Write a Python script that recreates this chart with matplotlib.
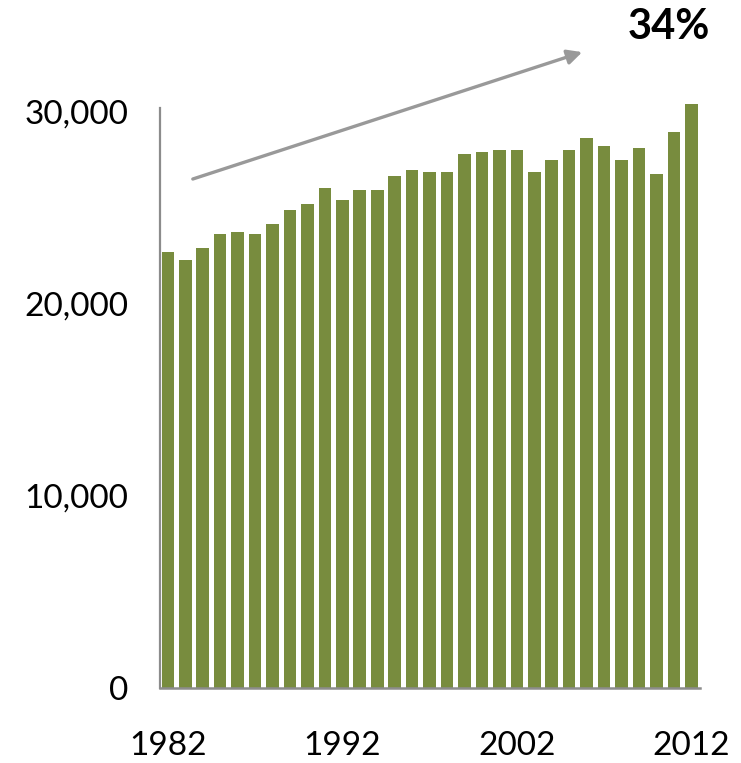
import matplotlib
matplotlib.use("Agg")
import matplotlib.pyplot as plt

years = list(range(1982, 2013))
values = [22700, 22260, 22880, 23610, 23710, 23610, 24130, 24860, 25170, 26000,
          25380, 25900, 25900, 26630, 26940, 26830, 26830, 27770, 27870, 27980,
          27980, 26830, 27460, 27980, 28600, 28190, 27460, 28080, 26730, 28910,
          30370]
tick_years = [1982, 1992, 2002, 2012]
ytick_vals = [0, 10000, 20000, 30000]
growth_label = "34%"

plt.rcParams['font.family'] = ['Lato', 'DejaVu Sans']

W, H = 741, 763
fig = plt.figure(figsize=(W / 100, H / 100), dpi=100)
ax = fig.add_axes([160 / W, 75 / H, (700 - 160) / W, 688 / H])

x = list(range(len(years)))
ax.bar(x, values, width=0.72, color='#788C3E', zorder=2)

ax.set_xlim(-0.45, len(years) - 0.5)
ax.set_ylim(0, 35780)

for s in ['top', 'right']:
    ax.spines[s].set_visible(False)
ax.spines['left'].set_color('#8c8c8c')
ax.spines['left'].set_linewidth(1.6)
ax.spines['left'].set_bounds(0, 30160)
ax.spines['bottom'].set_color('#8c8c8c')
ax.spines['bottom'].set_linewidth(1.8)
ax.spines['bottom'].set_zorder(3)

ax.set_yticks(ytick_vals)
ax.set_yticklabels([f"{v:,}" for v in ytick_vals])
ax.set_xticks([years.index(y) for y in tick_years])
ax.set_xticklabels([str(y) for y in tick_years])
ax.tick_params(axis='y', length=0, pad=23, labelsize=24, labelcolor='black')
ax.tick_params(axis='x', length=0, pad=31, labelsize=24, labelcolor='black')

ax.annotate('', xy=(23.75, 33070), xytext=(1.43, 26470),
            arrowprops=dict(arrowstyle='-|>', color='#999999', lw=2.4,
                            mutation_scale=22, shrinkA=0, shrinkB=0),
            annotation_clip=False)
ax.text(28.74, 34370, growth_label, ha='center', va='center',
        fontsize=30, fontweight='bold', color='black')

fig.savefig('out.png', dpi=100)
